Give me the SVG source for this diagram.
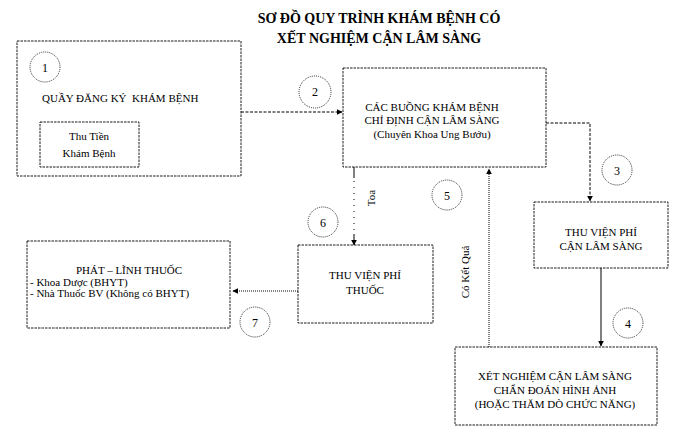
<svg xmlns="http://www.w3.org/2000/svg" width="690" height="443" viewBox="0 0 690 443">
<defs>
<style>
.bg{fill:#fff}
.box{fill:#fff;stroke:#000;stroke-width:0.9;stroke-dasharray:2.5 1}
.num{fill:#fff;stroke:#000;stroke-width:0.8;stroke-dasharray:1 1}
.t{font-family:"Liberation Serif","Times New Roman",serif;font-size:11px;fill:#000;white-space:pre}
.c{text-anchor:middle}
.title{font-family:"Liberation Serif","Times New Roman",serif;font-size:14px;font-weight:bold;text-anchor:middle;fill:#000}
.n{font-family:"Liberation Serif","Times New Roman",serif;font-size:12px;text-anchor:middle;fill:#000}
.ln{fill:none;stroke:#000;stroke-width:1}
.dash{stroke-dasharray:3 1.5}
.dot{stroke-dasharray:1 1}
.sdot{stroke-dasharray:1 5}
</style>
<marker id="arr" viewBox="0 0 10 10" refX="9" refY="5" markerWidth="6" markerHeight="6" orient="auto" markerUnits="userSpaceOnUse">
<path d="M0,0 L10,5 L0,10 z" fill="#000"/>
</marker>
</defs>
<rect class="bg" x="0" y="0" width="690" height="443"/>

<g id="title">
<text class="title" x="379" y="23">SƠ ĐỒ QUY TRÌNH KHÁM BỆNH CÓ</text>
<text class="title" x="379" y="43">XẾT NGHIỆM CẬN LÂM SÀNG</text>
</g>

<g id="connectors">
<path class="ln dash" d="M241,112 H342" marker-end="url(#arr)"/>
<path class="ln dash" d="M546,123 H590 V201" marker-end="url(#arr)"/>
<path class="ln" d="M601,268 V346" marker-end="url(#arr)"/>
<path class="ln dot" d="M489,347 V169" marker-end="url(#arr)"/>
<path class="ln" d="M354,167 V178"/>
<path class="ln sdot" d="M354,181 V232"/>
<path class="ln" d="M354,234 V245" marker-end="url(#arr)"/>
<path class="ln dot" d="M298,291 H233" marker-end="url(#arr)"/>
<text class="t c" transform="translate(371,198) rotate(-90)" dy="4">Toa</text>
<text class="t c" transform="translate(465,272) rotate(-90)" dy="4">Có Kết Quả</text>
</g>

<g id="node1">
<rect class="box" x="17" y="41" width="224" height="135"/>
<circle class="num" cx="45" cy="67" r="15"/>
<text class="n" x="45" y="72">1</text>
<text class="t" x="42" y="102">QUẦY ĐĂNG KÝ  KHÁM BỆNH</text>
<g id="node1a">
<rect class="box" x="40" y="122" width="99" height="45"/>
<text class="t c" x="89" y="140">Thu Tiền</text>
<text class="t c" x="89" y="157">Khám Bệnh</text>
</g>
</g>

<g id="node2">
<circle class="num" cx="315" cy="92" r="16"/>
<text class="n" x="315" y="96">2</text>
<rect class="box" x="343" y="68" width="203" height="99"/>
<text class="t c" x="432" y="111">CÁC BUỒNG KHÁM BỆNH</text>
<text class="t c" x="432" y="124">CHỈ ĐỊNH CẬN LÂM SÀNG</text>
<text class="t c" x="432" y="138">(Chuyên Khoa Ung Bướu)</text>
</g>

<g id="node3">
<circle class="num" cx="617" cy="170" r="15"/>
<text class="n" x="617" y="175">3</text>
<rect class="box" x="534" y="202" width="134" height="66"/>
<text class="t c" x="601" y="236">THU VIỆN PHÍ</text>
<text class="t c" x="601" y="250">CẬN LÂM SÀNG</text>
</g>

<g id="node4">
<circle class="num" cx="628" cy="323" r="15"/>
<text class="n" x="628" y="328">4</text>
<rect class="box" x="455" y="347" width="202" height="78"/>
<text class="t c" x="555" y="380">XÉT NGHIỆM CẬN LÂM SÀNG</text>
<text class="t c" x="555" y="394">CHẨN ĐOÁN HÌNH ẢNH</text>
<text class="t c" x="555" y="408">(HOẶC THĂM DÒ CHỨC NĂNG)</text>
</g>

<g id="node5">
<circle class="num" cx="447" cy="195" r="15"/>
<text class="n" x="447" y="200">5</text>
</g>

<g id="node6">
<circle class="num" cx="323" cy="222" r="15"/>
<text class="n" x="323" y="227">6</text>
<rect class="box" x="298" y="245" width="135" height="78"/>
<text class="t c" x="365" y="279">THU VIỆN PHÍ</text>
<text class="t c" x="365" y="294">THUỐC</text>
</g>

<g id="node7">
<rect class="box" x="27" y="241" width="203" height="87"/>
<text class="t c" x="129" y="274">PHÁT – LĨNH THUỐC</text>
<text class="t" x="30" y="286">- Khoa Dược (BHYT)</text>
<text class="t" x="30" y="297">- Nhà Thuốc BV (Không có BHYT)</text>
<circle class="num" cx="255" cy="322" r="15"/>
<text class="n" x="255" y="327">7</text>
</g>
</svg>
